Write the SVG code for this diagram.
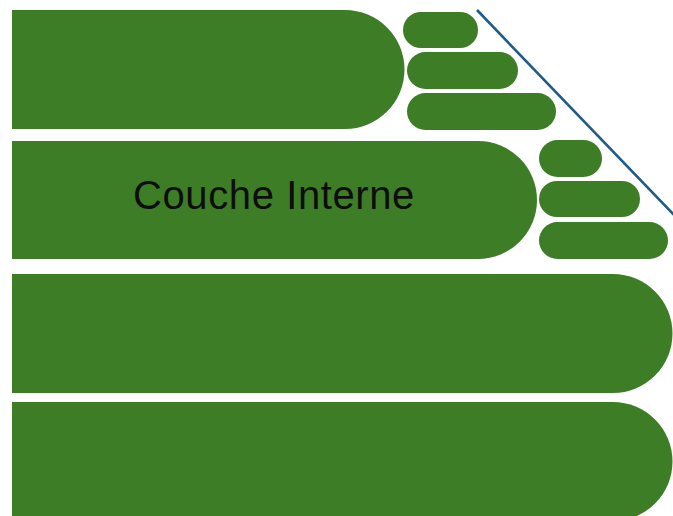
<svg xmlns="http://www.w3.org/2000/svg" width="673" height="516" viewBox="0 0 673 516">
  <style>
    .layer { fill: #3d7d26; }
    .pill { fill: #3d7d26; }
    .label { font-family: "Liberation Sans", Arial, sans-serif; font-size: 40px; letter-spacing: 0.6px; fill: #0d0d0d; }
    .edge { stroke: #1f5b88; stroke-width: 2.6; fill: none; }
  </style>
  <rect width="673" height="516" fill="#ffffff"/>

  <!-- layer 1 with its three sub-blocks -->
  <g id="layer1">
    <path class="layer" d="M12 10 H345 A59 59 0 0 1 345 129 H12 Z"/>
  </g>
  <g id="layer1-a"><rect class="pill" x="403" y="12" width="75" height="36" rx="18"/></g>
  <g id="layer1-b"><rect class="pill" x="407" y="52" width="111" height="37" rx="18.5"/></g>
  <g id="layer1-c"><rect class="pill" x="407" y="93" width="149" height="37" rx="18.5"/></g>

  <!-- layer 2: inner layer -->
  <g id="layer2">
    <path class="layer" d="M12 141 H478 A59 59 0 0 1 478 259 H12 Z"/>
    <text class="label" x="274" y="209" text-anchor="middle">Couche Interne</text>
  </g>
  <g id="layer2-a"><rect class="pill" x="539" y="140" width="63" height="37" rx="18.5"/></g>
  <g id="layer2-b"><rect class="pill" x="539" y="181" width="101" height="36" rx="18"/></g>
  <g id="layer2-c"><rect class="pill" x="539" y="222" width="129" height="37" rx="18.5"/></g>

  <!-- layers 3 and 4 -->
  <g id="layer3">
    <path class="layer" d="M12 274 H613 A59 59 0 0 1 613 393 H12 Z"/>
  </g>
  <g id="layer4">
    <path class="layer" d="M12 402 H613 A59 59 0 0 1 613 521 H12 Z"/>
  </g>

  <g id="connectors">
    <line class="edge" x1="477" y1="10" x2="674" y2="215"/>
  </g>
</svg>
